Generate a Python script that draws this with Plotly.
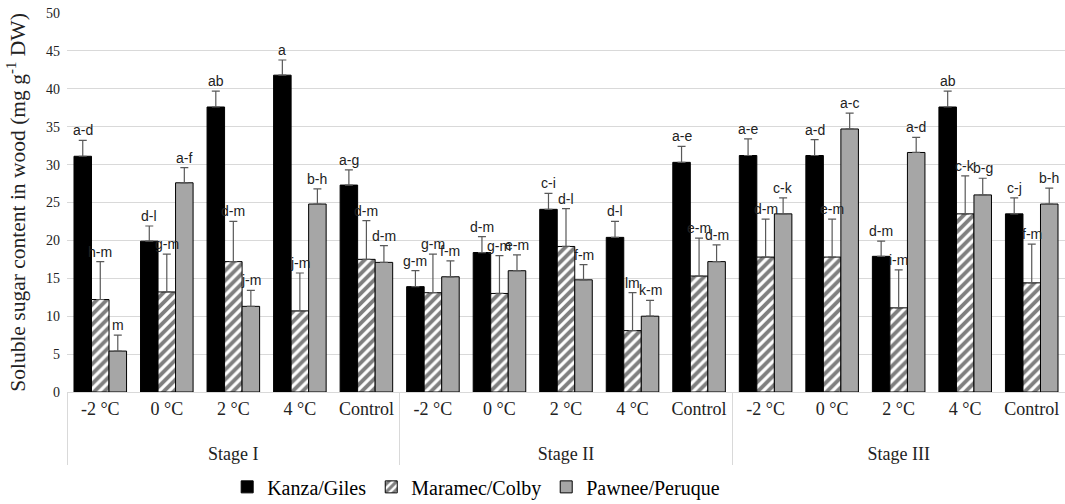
import plotly.graph_objects as go

stages = ["Stage I"] * 5 + ["Stage II"] * 5 + ["Stage III"] * 5
temps = ["-2 °C", "0 °C", "2 °C", "4 °C", "Control"] * 3

kanza = [31.1, 19.9, 37.6, 41.8, 27.3, 13.9, 18.4, 24.1, 20.4, 30.3, 31.2, 31.2, 17.9, 37.6, 23.5]
kanza_err = [2.1, 2.0, 2.1, 2.0, 2.0, 2.1, 2.1, 2.1, 2.1, 2.1, 2.2, 2.1, 2.0, 2.1, 2.1]
kanza_let = ["a-d", "d-l", "ab", "a", "a-g", "g-m", "d-m", "c-i", "d-l", "a-e", "a-e", "a-d", "d-m", "ab", "c-j"]

maramec = [12.2, 13.2, 17.2, 10.7, 17.5, 13.1, 13.0, 19.2, 8.1, 15.3, 17.8, 17.8, 11.1, 23.5, 14.4]
maramec_err = [5.0, 5.0, 5.3, 5.0, 5.1, 5.1, 5.0, 5.0, 5.0, 5.0, 5.0, 5.0, 5.0, 5.0, 5.1]
maramec_let = ["h-m", "g-m", "d-m", "j-m", "d-m", "g-m", "g-m", "d-l", "lm", "e-m", "d-m", "e-m", "i-m", "c-k", "f-m"]

pawnee = [5.4, 27.6, 11.3, 24.8, 17.1, 15.2, 16.0, 14.8, 10.0, 17.2, 23.5, 34.7, 31.6, 26.0, 24.8]
pawnee_err = [2.1, 2.0, 2.1, 2.0, 2.2, 2.1, 2.1, 2.0, 2.1, 2.2, 2.1, 2.1, 2.0, 2.2, 2.1]
pawnee_let = ["m", "a-f", "j-m", "b-h", "d-m", "f-m", "e-m", "f-m", "k-m", "d-m", "c-k", "a-c", "a-d", "b-g", "b-h"]

series = [
    ("Kanza/Giles", kanza, kanza_err, kanza_let, dict(color="black", line=dict(color="black", width=1))),
    ("Maramec/Colby", maramec, maramec_err, maramec_let,
     dict(color="white", line=dict(color="black", width=1),
          pattern=dict(shape="/", fgcolor="black", bgcolor="white", size=7, solidity=0.55))),
    ("Pawnee/Peruque", pawnee, pawnee_err, pawnee_let, dict(color="#a6a6a6", line=dict(color="black", width=1))),
]

BARGAP = 0.21
SERIF = "Liberation Serif"

# second-level labels pushed down one line (display only)
stage_display = ["<br>" + s for s in stages]

fig = go.Figure()
annotations = []
bw = (1 - BARGAP) / 3
for k, (name, vals, errs, lets, mk) in enumerate(series):
    fig.add_trace(go.Bar(
        name=name, x=[stage_display, temps], y=vals, marker=mk,
        error_y=dict(type="data", array=errs, arrayminus=[0] * len(errs),
                     symmetric=False, color="#595959", thickness=1.2, width=4),
    ))
    for i, (v, e, t) in enumerate(zip(vals, errs, lets)):
        annotations.append(dict(
            x=i + (k - 1) * bw, y=v + e, xref="x", yref="y", text=t,
            showarrow=False, yanchor="bottom", yshift=0,
            font=dict(family="Liberation Sans", size=14, color="#222"),
        ))

fig.update_layout(
    width=1065, height=504,
    margin=dict(l=67, r=0, t=13, b=112),
    plot_bgcolor="white", paper_bgcolor="white",
    barmode="group", bargap=BARGAP, bargroupgap=0,
    annotations=annotations,
    legend=dict(orientation="h", x=0.41, xanchor="center", yref="container", y=0.034, yanchor="middle",
                font=dict(family=SERIF, size=20, color="black"), traceorder="normal",
                itemwidth=30),
    font=dict(family=SERIF, color="#222"),
)
fig.update_yaxes(range=[0, 50], dtick=5, showgrid=True, gridcolor="#d9d9d9", gridwidth=1,
                 zeroline=False, tickfont=dict(family=SERIF, size=14, color="#222"),
                 title=dict(text="Soluble sugar content in wood (mg g<sup>-1</sup> DW)",
                            font=dict(family=SERIF, size=21.5, color="#222"), standoff=14),
                 ticks="", ticklabelstandoff=6, ticklabeloverflow="allow", automargin=False)
fig.update_xaxes(type="multicategory", showline=True, linecolor="#d9d9d9", linewidth=1,
                 showdividers=True, dividercolor="#d9d9d9", dividerwidth=1,
                 tickfont=dict(family=SERIF, size=18, color="#222"), ticks="",
                 automargin=False)

fig.write_html("out.html", config={"displayModeBar": False},
               post_script="document.body.style.margin='0';")
